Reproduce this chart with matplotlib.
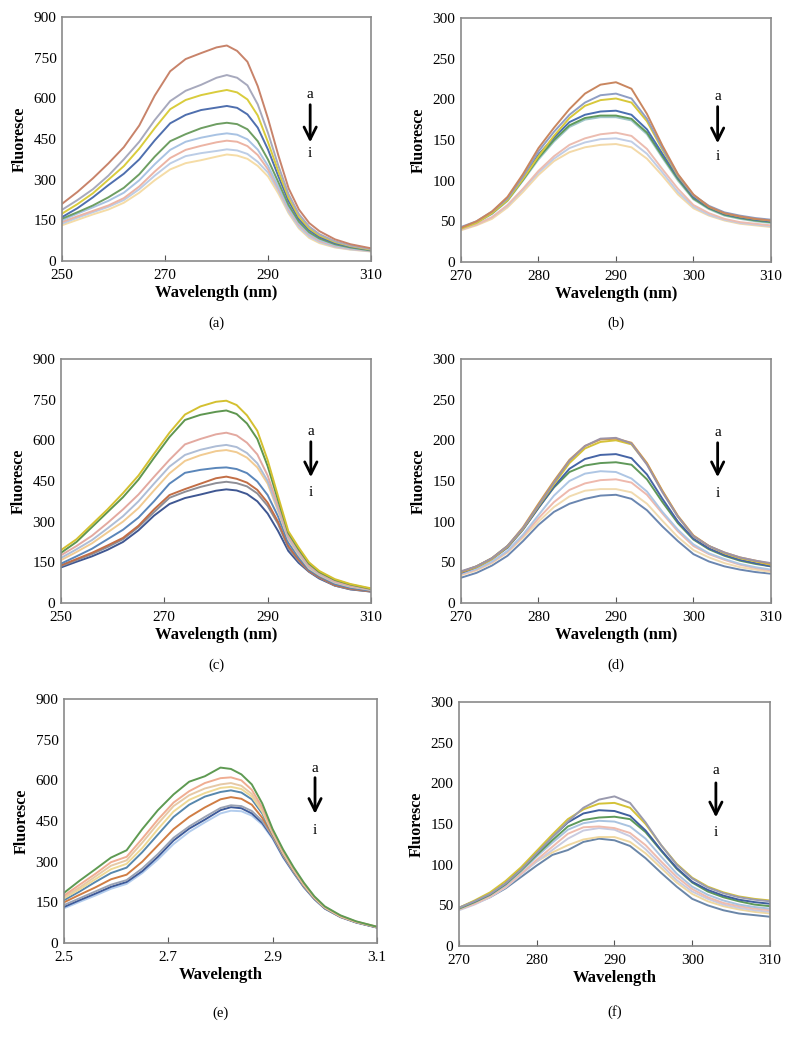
from matplotlib import pyplot as plt

plt.rcParams['font.family'] = ['Liberation Serif', 'DejaVu Serif']

# --- panel (a) -------------------------------------------------------------
wl_a = [250, 253, 256, 259, 262, 265, 268, 271, 274, 277, 280, 282,
        284, 286, 288, 290, 292, 294, 296, 298, 300, 303, 306, 310]
a_a = [211, 255, 305, 360, 420, 500, 610, 700, 745, 767, 788, 795, 775, 735, 645, 525, 390, 268, 190, 140, 110, 80, 62, 47]
a_b = [189, 225, 265, 315, 375, 440, 520, 590, 628, 650, 676, 686, 676, 648, 578, 472, 352, 246, 173, 127, 99, 73, 57, 44]
a_c = [175, 210, 250, 300, 350, 415, 490, 560, 594, 612, 624, 631, 622, 596, 537, 438, 331, 233, 163, 120, 94, 70, 55, 42]
a_d = [162, 195, 235, 280, 322, 375, 445, 508, 539, 557, 566, 572, 565, 541, 492, 411, 313, 221, 155, 114, 89, 66, 53, 41]
a_e = [156, 180, 205, 235, 270, 320, 385, 442, 468, 490, 505, 510, 505, 486, 442, 374, 291, 206, 145, 106, 83, 62, 50, 39]
a_f = [150, 175, 198, 222, 252, 298, 357, 410, 440, 455, 466, 471, 466, 449, 411, 351, 274, 196, 138, 100, 78, 58, 47, 38]
a_g = [144, 165, 185, 205, 232, 275, 330, 380, 410, 425, 438, 444, 440, 424, 391, 338, 266, 189, 132, 96, 74, 55, 45, 37]
a_h = [138, 160, 180, 200, 225, 265, 315, 360, 387, 398, 406, 412, 408, 395, 366, 326, 259, 181, 125, 90, 70, 52, 43, 36]
a_i = [132, 152, 172, 190, 215, 252, 298, 338, 361, 372, 385, 393, 389, 377, 351, 312, 249, 176, 120, 85, 66, 50, 42, 35]
colors_a = ['#c8836a', '#a7a9bd', '#d9cc3c', '#4f6fae', '#6e9e62',
            '#a9c3e3', '#ecb4a4', '#bccde6', '#f5dca6']

# --- panel (b) -------------------------------------------------------------
wl_b = [270, 272, 274, 276, 278, 280, 282, 284, 286, 288, 290,
        292, 294, 296, 298, 300, 302, 304, 306, 308, 310]
b_a = [42, 50, 62, 80, 108, 140, 165, 188, 207, 218, 221, 213, 182, 143, 108, 83, 68, 60, 56, 53, 51]
b_b = [43, 50, 62, 78, 105, 136, 160, 181, 196, 205, 207, 201, 176, 140, 107, 82, 69, 61, 57, 54, 52]
b_c = [41, 48, 60, 76, 102, 130, 155, 177, 192, 199, 201, 196, 173, 138, 106, 82, 68, 60, 56, 53, 51]
b_d = [42, 49, 60, 77, 103, 132, 153, 172, 181, 185, 186, 181, 163, 133, 104, 80, 67, 59, 55, 52, 50]
b_e = [42, 49, 60, 76, 101, 128, 150, 168, 177, 180, 180, 176, 159, 130, 102, 78, 66, 58, 54, 51, 49]
b_f = [41, 48, 59, 75, 100, 126, 148, 166, 175, 178, 178, 174, 157, 128, 100, 77, 65, 57, 53, 50, 48]
b_g = [40, 46, 55, 70, 90, 112, 130, 144, 152, 157, 159, 155, 139, 114, 90, 70, 60, 53, 49, 47, 45]
b_h = [40, 46, 55, 69, 89, 110, 127, 140, 147, 151, 152, 148, 133, 110, 86, 68, 58, 52, 48, 46, 44]
b_i = [39, 45, 53, 67, 86, 107, 124, 135, 141, 144, 145, 141, 127, 106, 83, 66, 57, 51, 47, 45, 43]
colors_b = ['#c9865f', '#8f9ec4', '#d8c83a', '#4a6fb0', '#5f9a5a',
            '#9fc6c8', '#ecbcb0', '#c0cde6', '#f3d9a8']

# --- panel (c) -------------------------------------------------------------
wl_c = wl_a
c_a = [195, 235, 290, 345, 405, 470, 550, 628, 695, 725, 742, 746, 730, 692, 635, 527, 395, 265, 205, 150, 118, 88, 70, 54]
c_b = [185, 225, 280, 335, 390, 455, 535, 612, 675, 694, 705, 710, 697, 662, 605, 505, 380, 258, 198, 145, 114, 85, 68, 52]
c_c = [176, 210, 248, 295, 345, 400, 465, 528, 585, 605, 622, 628, 618, 591, 548, 470, 360, 248, 190, 137, 110, 80, 64, 50]
c_d = [166, 198, 232, 275, 320, 375, 440, 503, 546, 565, 578, 583, 575, 553, 515, 450, 348, 240, 182, 132, 106, 77, 62, 49]
c_e = [158, 188, 220, 260, 300, 350, 415, 478, 524, 545, 560, 564, 556, 536, 500, 440, 340, 235, 177, 128, 103, 75, 60, 48]
c_f = [145, 172, 200, 235, 270, 315, 375, 440, 480, 491, 498, 500, 494, 479, 448, 398, 320, 222, 168, 122, 99, 70, 56, 45]
c_g = [139, 162, 185, 212, 240, 285, 345, 398, 420, 440, 460, 466, 458, 444, 417, 370, 300, 210, 160, 118, 95, 66, 53, 43]
c_h = [136, 158, 180, 206, 235, 280, 335, 388, 410, 428, 442, 447, 442, 430, 404, 358, 292, 203, 155, 116, 93, 64, 51, 42]
c_i = [131, 152, 172, 196, 225, 268, 322, 365, 387, 400, 414, 419, 415, 402, 375, 330, 266, 192, 148, 115, 90, 64, 50, 42]
colors_c = ['#d4c030', '#5e9650', '#e3a9a0', '#aebdd6', '#f1cb92',
            '#5a86ba', '#c26e46', '#8e8e96', '#3f5792']

# --- panel (d) -------------------------------------------------------------
wl_d = wl_b
d_a = [39, 45, 55, 70, 92, 120, 148, 175, 193, 202, 203, 196, 170, 136, 106, 82, 70, 62, 56, 52, 49]
d_b = [38, 45, 55, 70, 93, 122, 150, 176, 193, 201, 202, 197, 172, 138, 107, 83, 70, 62, 56, 52, 48]
d_c = [38, 44, 54, 69, 91, 119, 146, 172, 190, 198, 200, 195, 171, 137, 106, 82, 70, 61, 55, 51, 47]
d_d = [37, 44, 54, 68, 90, 117, 143, 165, 177, 182, 183, 178, 158, 128, 100, 79, 67, 59, 53, 49, 45]
d_e = [38, 45, 55, 70, 91, 117, 142, 161, 169, 172, 173, 170, 152, 124, 98, 78, 66, 58, 52, 48, 45]
d_f = [36, 42, 51, 64, 84, 108, 132, 150, 159, 162, 161, 153, 137, 112, 90, 72, 61, 54, 48, 44, 41]
d_g = [35, 41, 50, 63, 82, 104, 124, 139, 147, 151, 152, 148, 133, 110, 88, 70, 60, 53, 47, 43, 40]
d_h = [34, 40, 49, 62, 80, 100, 118, 131, 138, 140, 140, 136, 122, 101, 81, 65, 56, 49, 44, 41, 38]
d_i = [31, 37, 46, 58, 76, 96, 112, 122, 128, 132, 133, 128, 114, 94, 76, 60, 51, 45, 41, 38, 36]
colors_d = ['#9d93a6', '#d39a48', '#d5c238', '#4665a6', '#5f9859',
            '#aec6e4', '#eeb9ad', '#f1dbb0', '#6a86b0']

# --- panel (e) -------------------------------------------------------------
wl_e = [2.50, 2.53, 2.56, 2.59, 2.62, 2.65, 2.68, 2.71, 2.74, 2.77, 2.80, 2.82,
        2.84, 2.86, 2.88, 2.90, 2.92, 2.94, 2.96, 2.98, 3.00, 3.03, 3.06, 3.10]
e_a = [185, 230, 272, 315, 342, 420, 490, 548, 595, 615, 647, 642, 622, 585, 515, 420, 345, 280, 222, 172, 135, 102, 80, 60]
e_b = [175, 215, 255, 298, 318, 385, 455, 518, 560, 590, 608, 611, 600, 565, 500, 412, 338, 275, 218, 170, 133, 100, 79, 60]
e_c = [170, 205, 245, 285, 305, 370, 440, 505, 545, 570, 585, 590, 580, 550, 492, 408, 335, 272, 216, 168, 132, 99, 78, 59]
e_d = [165, 198, 235, 272, 292, 350, 420, 485, 528, 553, 572, 576, 568, 540, 485, 405, 332, 270, 214, 167, 131, 98, 78, 59]
e_e = [158, 190, 225, 258, 278, 335, 400, 465, 510, 540, 557, 563, 555, 530, 478, 402, 330, 268, 213, 166, 130, 98, 77, 58]
e_f = [150, 178, 205, 235, 252, 300, 360, 420, 465, 500, 530, 538, 532, 510, 462, 398, 327, 266, 211, 165, 130, 97, 77, 58]
e_g = [140, 165, 190, 215, 232, 275, 328, 388, 430, 465, 498, 508, 505, 487, 450, 392, 322, 262, 208, 163, 128, 96, 76, 57]
e_h = [133, 158, 182, 207, 225, 265, 318, 378, 422, 455, 490, 501, 497, 478, 443, 388, 318, 260, 206, 162, 127, 96, 76, 57]
e_i = [128, 152, 175, 200, 218, 258, 308, 365, 410, 445, 478, 488, 486, 470, 437, 384, 315, 258, 205, 161, 127, 95, 75, 57]
colors_e = ['#5e9a52', '#f0ad92', '#e6c9a6', '#efd995', '#5687ad',
            '#d07d44', '#9aa2b4', '#3d5a9a', '#b2cced']

# --- panel (f) -------------------------------------------------------------
wl_f = wl_b
f_a = [47, 55, 64, 77, 94, 114, 134, 153, 170, 180, 184, 176, 152, 124, 100, 83, 72, 65, 60, 57, 55]
f_b = [47, 56, 66, 80, 97, 117, 137, 156, 168, 175, 176, 170, 150, 124, 101, 84, 73, 66, 61, 58, 56]
f_c = [47, 55, 64, 77, 95, 114, 134, 152, 163, 167, 166, 160, 142, 118, 96, 79, 69, 62, 57, 54, 52]
f_d = [46, 54, 63, 76, 93, 112, 130, 147, 155, 158, 159, 156, 140, 117, 95, 78, 67, 60, 55, 51, 49]
f_e = [46, 54, 63, 75, 92, 110, 127, 143, 151, 154, 153, 147, 132, 110, 89, 73, 63, 56, 51, 48, 46]
f_f = [45, 52, 61, 73, 89, 106, 122, 138, 146, 147, 145, 139, 124, 104, 85, 70, 60, 53, 49, 46, 44]
f_g = [44, 51, 60, 72, 88, 104, 118, 132, 142, 145, 143, 135, 119, 100, 81, 67, 58, 51, 47, 44, 42]
f_h = [45, 52, 61, 73, 89, 104, 115, 124, 131, 134, 134, 128, 114, 96, 78, 64, 55, 49, 45, 42, 40]
f_i = [45, 52, 60, 71, 85, 99, 112, 118, 128, 132, 130, 123, 108, 90, 73, 58, 50, 44, 40, 38, 36]
colors_f = ['#9a9aae', '#d4c238', '#40609e', '#5e9a5a', '#a9c3e0',
            '#efbcae', '#c8cbe0', '#f0d8a0', '#6a86a8']


def draw_panel(fig, rect, wl, series, colors, xlim, xticks, xticklabels, ylim, yticks,
               xlabel, caption, caption_y, arrow):
    ax = fig.add_axes(rect)
    # lightest curves first so the strong ones sit on top
    for ys, c in reversed(list(zip(series, colors))):
        ax.plot(wl, ys, color=c, linewidth=1.4, solid_joinstyle='round')
    ax.set_xlim(*xlim)
    ax.set_ylim(*ylim)
    ax.set_xticks(xticks)
    ax.set_xticklabels(xticklabels)
    ax.set_yticks(yticks)
    for s in ax.spines.values():
        s.set_color('#8a8a8a')
        s.set_linewidth(1.2)
    ax.tick_params(axis='x', direction='in', length=4, color='#555555', labelsize=11, pad=6)
    ax.tick_params(axis='y', length=0, labelsize=11, pad=4)
    ax.set_xlabel(xlabel, fontsize=12, fontweight='bold', labelpad=2)
    ax.set_ylabel('Fluoresce', fontsize=11.5, fontweight='bold', labelpad=4)

    ax_x, top, bottom, ya, yi = arrow
    ax.annotate('', xy=(ax_x, bottom), xytext=(ax_x, top), xycoords='axes fraction',
                arrowprops=dict(arrowstyle='->', color='black', lw=2, mutation_scale=22))
    ax.text(ax_x, ya, 'a', transform=ax.transAxes, ha='center', va='center', fontsize=11)
    ax.text(ax_x, yi, 'i', transform=ax.transAxes, ha='center', va='center', fontsize=11)

    cx = rect[0] + rect[2] / 2
    fig.text(cx, caption_y, caption, ha='center', va='center', fontsize=10.5)
    return ax


fig = plt.figure(figsize=(7.93, 10.45), dpi=100)

nm_ticks_a = [250, 270, 290, 310]
nm_ticks_b = [270, 280, 290, 300, 310]

draw_panel(fig, [0.0782, 0.7502, 0.3897, 0.2335], wl_a,
           [a_a, a_b, a_c, a_d, a_e, a_f, a_g, a_h, a_i], colors_a,
           (250, 310), nm_ticks_a, [str(t) for t in nm_ticks_a], (0, 900), range(0, 901, 150),
           'Wavelength (nm)', '(a)', 1 - 323 / 1045, (0.803, 0.652, 0.475, 0.684, 0.439))

draw_panel(fig, [0.5813, 0.7493, 0.3909, 0.2335], wl_b,
           [b_a, b_b, b_c, b_d, b_e, b_f, b_g, b_h, b_i], colors_b,
           (270, 310), nm_ticks_b, [str(t) for t in nm_ticks_b], (0, 300), range(0, 301, 50),
           'Wavelength (nm)', '(b)', 1 - 323 / 1045, (0.828, 0.648, 0.475, 0.68, 0.434))

draw_panel(fig, [0.0769, 0.4230, 0.3909, 0.2335], wl_c,
           [c_a, c_b, c_c, c_d, c_e, c_f, c_g, c_h, c_i], colors_c,
           (250, 310), nm_ticks_a, [str(t) for t in nm_ticks_a], (0, 900), range(0, 901, 150),
           'Wavelength (nm)', '(c)', 1 - 665 / 1045, (0.806, 0.672, 0.504, 0.702, 0.452))

draw_panel(fig, [0.5813, 0.4230, 0.3909, 0.2335], wl_d,
           [d_a, d_b, d_c, d_d, d_e, d_f, d_g, d_h, d_i], colors_d,
           (270, 310), nm_ticks_b, [str(t) for t in nm_ticks_b], (0, 300), range(0, 301, 50),
           'Wavelength (nm)', '(d)', 1 - 665 / 1045, (0.828, 0.668, 0.504, 0.70, 0.45))

e_ticks = [2.5, 2.7, 2.9, 3.1]
draw_panel(fig, [0.0807, 0.0976, 0.3947, 0.2335], wl_e,
           [e_a, e_b, e_c, e_d, e_e, e_f, e_g, e_h, e_i], colors_e,
           (2.5, 3.1), e_ticks, [str(t) for t in e_ticks], (0, 900), range(0, 901, 150),
           'Wavelength', '(e)', 1 - 1013 / 1045, (0.802, 0.689, 0.518, 0.717, 0.463))

draw_panel(fig, [0.5788, 0.0947, 0.3922, 0.2335], wl_f,
           [f_a, f_b, f_c, f_d, f_e, f_f, f_g, f_h, f_i], colors_f,
           (270, 310), nm_ticks_b, [str(t) for t in nm_ticks_b], (0, 300), range(0, 301, 50),
           'Wavelength', '(f)', 1 - 1012 / 1045, (0.826, 0.68, 0.516, 0.718, 0.467))

plt.savefig('out.png', dpi=100)
